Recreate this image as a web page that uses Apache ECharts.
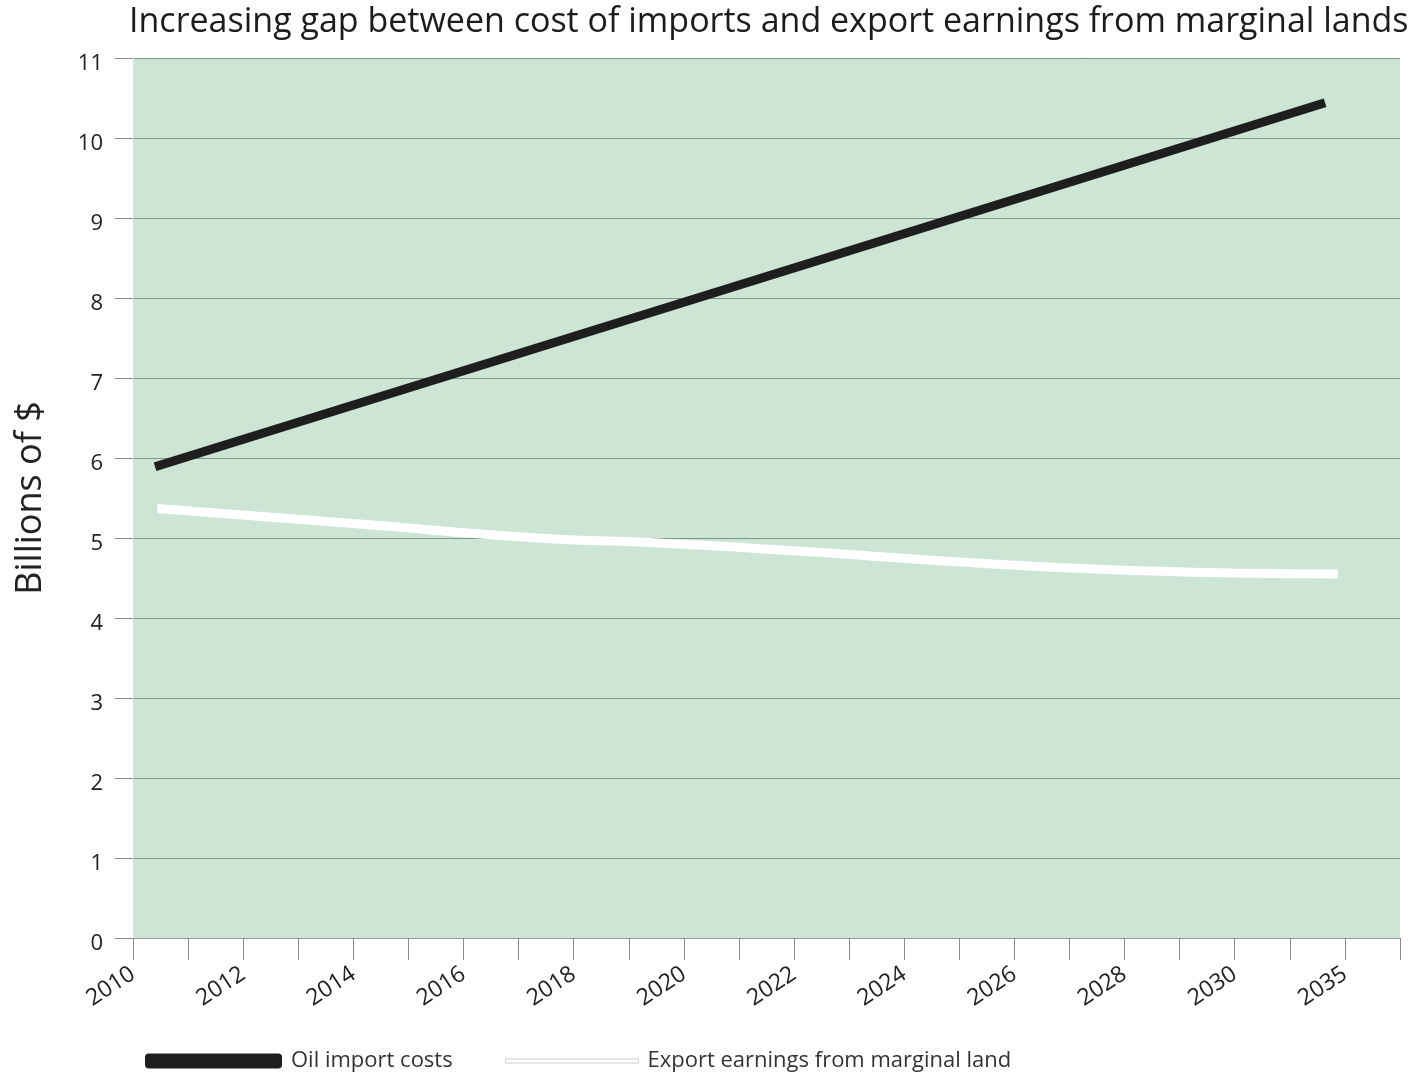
<!DOCTYPE html>
<html>
<head>
<meta charset="utf-8">
<title>Increasing gap between cost of imports and export earnings from marginal lands</title>
<script src="https://cdn.jsdelivr.net/npm/echarts@6/dist/echarts.min.js"></script>
<style>
  html, body { margin: 0; padding: 0; background: #ffffff; }
  #chart { width: 1411px; height: 1074px; }
</style>
</head>
<body>
<div id="chart"></div>
<script>
// Tick positions along the x axis (one per step) and the label shown at each
const tickLabels = ['2010', '', '2012', '', '2014', '', '2016', '', '2018', '', '2020', '',
                    '2022', '', '2024', '', '2026', '', '2028', '', '2030', '', '2035', ''];

// Billions of $, as [tick position, value]
const oilImportCosts = [[0.40, 5.89], [21.64, 10.44]];
const exportEarnings = [[0.44, 5.37], [4.0, 5.18], [7.57, 4.99], [9.20, 4.95], [12.0, 4.84],
                        [15.01, 4.70], [17.55, 4.61], [20.28, 4.56], [21.87, 4.55]];

const yMin = 0, yMax = 11, yStep = 1;

const FONT = 'Open Sans';
const chart = echarts.init(document.getElementById('chart'));

chart.setOption({
  backgroundColor: '#ffffff',
  animation: false,
  title: {
    text: 'Increasing gap between cost of imports and export earnings from marginal lands',
    left: 124,
    top: 0,
    textStyle: { fontFamily: FONT, fontSize: 34, fontWeight: 'normal', color: '#1c1c1c' }
  },
  legend: [
    {
      data: [{ name: 'Oil import costs', icon: 'roundRect' }],
      left: 140,
      top: 1045,
      itemWidth: 137,
      itemHeight: 15,
      textStyle: { fontFamily: FONT, fontSize: 22, color: '#333333', padding: [0, 0, 0, 4] }
    },
    {
      data: [{ name: 'Export earnings from marginal land', icon: 'rect',
               itemStyle: { color: '#ffffff', borderColor: '#d0d0d0', borderWidth: 1 } }],
      left: 500,
      top: 1045,
      itemWidth: 133,
      itemHeight: 4,
      textStyle: { fontFamily: FONT, fontSize: 22, color: '#333333', padding: [0, 0, 0, 4] }
    }
  ],
  grid: {
    left: 133,
    right: 11,
    top: 58,
    bottom: 136,
    show: true,
    backgroundColor: '#cde5d5',
    borderWidth: 0,
    containLabel: false,
    outerBoundsMode: 'none'
  },
  xAxis: {
    type: 'value',
    min: 0,
    max: tickLabels.length - 1,
    interval: 1,
    axisLine: { show: true, lineStyle: { color: '#8f9f95', width: 1 } },
    axisTick: { show: true, length: 22, lineStyle: { color: '#8a8a8a', width: 1 } },
    splitLine: { show: false },
    axisLabel: {
      rotate: 33,
      margin: 34,
      fontFamily: FONT,
      fontSize: 23,
      color: '#222222',
      formatter: v => tickLabels[Math.round(v)] || ''
    }
  },
  yAxis: {
    type: 'value',
    min: yMin,
    max: yMax,
    interval: yStep,
    name: 'Billions of $',
    nameLocation: 'middle',
    nameGap: 84,
    nameTextStyle: { fontFamily: FONT, fontSize: 36, color: '#222222' },
    axisLine: { show: true, lineStyle: { color: '#dddddd', width: 1 } },
    axisTick: { show: true, length: 18, lineStyle: { color: '#8a8a8a', width: 1 } },
    splitLine: { show: true, lineStyle: { color: '#7d9886', width: 1 } },
    axisLabel: {
      margin: 30,
      fontFamily: FONT,
      fontSize: 22,
      color: '#222222',
      verticalAlign: 'top',
      lineHeight: 12
    }
  },
  series: [
    {
      name: 'Oil import costs',
      type: 'line',
      data: oilImportCosts,
      showSymbol: false,
      symbol: 'none',
      itemStyle: { color: '#1e1e1e' },
      lineStyle: { color: '#1e1e1e', width: 9, cap: 'butt' },
      z: 3
    },
    {
      name: 'Export earnings from marginal land',
      type: 'line',
      data: exportEarnings,
      smooth: true,
      showSymbol: false,
      symbol: 'none',
      itemStyle: { color: '#ffffff' },
      lineStyle: { color: '#ffffff', width: 9, cap: 'butt' },
      z: 2
    }
  ]
});
</script>
</body>
</html>
